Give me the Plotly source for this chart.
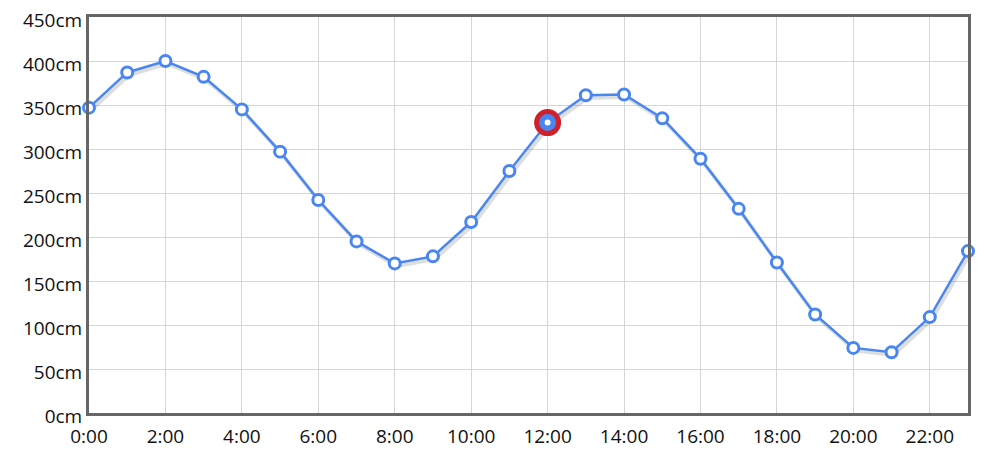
import plotly.graph_objects as go

hours = list(range(24))
hour_labels = [f"{h}:00" for h in hours]
levels = [347, 387, 400, 382, 345, 297, 242, 195, 170, 178, 217, 275,
          330, 361, 362, 335, 289, 232, 171, 112, 74, 69, 109, 184]
highlight_hour = 12

y_ticks = list(range(0, 451, 50))
y_tick_labels = [f"{v}cm" for v in y_ticks]
x_ticks = list(range(0, 23, 2))
x_tick_labels = [f"{h}:00" for h in x_ticks]

blue = "#4a86f0"
fig = go.Figure()

# soft shadow under the line
fig.add_trace(go.Scatter(
    x=[h + 0.05 for h in hours], y=[v - 3 for v in levels], mode="lines",
    line=dict(color="rgba(0,0,0,0.13)", width=4), hoverinfo="skip", showlegend=False))

fig.add_trace(go.Scatter(
    x=hours, y=levels, mode="lines+markers",
    line=dict(color=blue, width=2.5),
    marker=dict(size=11, color="white", line=dict(color=blue, width=3)),
    showlegend=False, cliponaxis=False))

# highlighted point
hi = hours.index(highlight_hour)
fig.add_trace(go.Scatter(
    x=[hours[hi]], y=[levels[hi]], mode="markers",
    marker=dict(size=22, color=blue, line=dict(color="#d0202a", width=5)),
    showlegend=False, cliponaxis=False))
fig.add_trace(go.Scatter(
    x=[hours[hi]], y=[levels[hi]], mode="markers",
    marker=dict(size=8, color="white", line=dict(color=blue, width=2)),
    showlegend=False, cliponaxis=False))

axis_common = dict(showline=True, linecolor="#666666", linewidth=3, mirror=True,
                   showgrid=True, gridcolor="#d6d6d6", gridwidth=1, zeroline=False,
                   ticks="", ticklabeloverflow="allow",
                   tickfont=dict(family="Open Sans, Noto Sans, sans-serif", size=19, color="#111"))

fig.update_xaxes(range=[0, 23], tickvals=x_ticks, ticktext=x_tick_labels,
                 ticklabelstandoff=4, **axis_common)
fig.update_yaxes(range=[0, 450], tickvals=y_ticks, ticktext=y_tick_labels,
                 ticklabelshift=3, **axis_common)

fig.update_layout(
    width=992, height=450,
    margin=dict(l=81, r=32, t=9, b=45, autoexpand=False),
    paper_bgcolor="white", plot_bgcolor="white",
    showlegend=False,
)

fig.write_html("out.html")
